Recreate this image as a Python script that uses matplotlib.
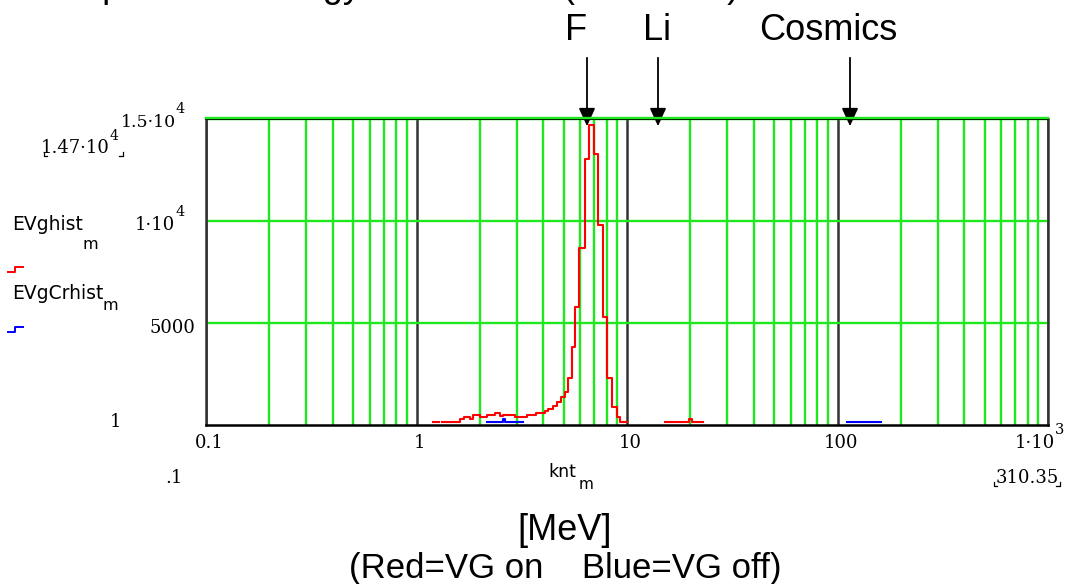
import numpy as np
import matplotlib.pyplot as plt
from matplotlib.lines import Line2D
from matplotlib.patches import FancyArrowPatch

# red = VG on, blue = VG off (energy in MeV, counts per bin)
red_edges = [1.20, 1.28, 1.32, 1.61, 1.68, 1.80, 1.86, 2.00, 2.17, 2.36,
             2.49, 2.59, 2.94, 3.34, 3.70, 4.08, 4.23, 4.47, 4.67, 4.88,
             5.05, 5.22, 5.46, 5.66, 5.94, 6.32, 6.62, 6.97, 7.31, 7.72,
             8.07, 8.46, 8.94, 9.26, 10.0]
red_counts = [160, np.nan, 160, 280, 375, 280, 490, 375, 490, 570,
              440, 490, 410, 470, 580, 700, 800, 950, 1150, 1350,
              1600, 2300, 3800, 5770, 8660, 13020, 14700, 13280, 9800, 5280,
              2290, 900, 375, 165]
red_li_edges = [15.2, 19.6, 20.3, 22.9]
red_li_counts = [160, 280, 160]
blue_edges = [2.17, 2.59, 2.63, 3.22]
blue_counts = [160, 280, 160]
blue_cos_edges = [110.6, 160.3]
blue_cos_counts = [160]

x_major = [0.1, 1, 10, 100, 1000]
x_minor = [m * 10.0**d for d in range(-1, 3) for m in range(2, 10)]
y_lines = [5000, 10000, 15000]

W, H = 1067, 584
fig = plt.figure(figsize=(W / 100, H / 100), dpi=100)
fig.patch.set_facecolor('white')
ax = fig.add_axes([206 / W, 1 - 425 / H, (1048 - 206) / W, (425 - 119) / H])

green = '#1fe81f'
dark = '#333333'

ax.set_xscale('log')
ax.set_xlim(0.1, 1000)
ax.set_ylim(1, 15000)
ax.set_xticks(x_major)
ax.set_xticks(x_minor, minor=True)
ax.set_yticks(y_lines)
ax.tick_params(which='both', length=0, labelbottom=False, labelleft=False)
ax.set_axisbelow(True)
ax.grid(which='minor', axis='x', color=green, lw=1.7)
ax.grid(which='major', axis='x', color=dark, lw=1.8)
ax.grid(which='major', axis='y', color=green, lw=1.7)
for s in ['left', 'right']:
    ax.spines[s].set_color(dark)
    ax.spines[s].set_linewidth(1.8)
ax.spines['bottom'].set_color('black')
ax.spines['bottom'].set_linewidth(1.8)
ax.spines['top'].set_color('black')
ax.spines['top'].set_linewidth(1.5)


def steps(edges, counts, color):
    ax.step(edges, list(counts) + [counts[-1]], where='post', color=color, lw=1.5, zorder=4)


steps(red_edges, red_counts, 'red')
steps(red_li_edges, red_li_counts, 'red')
steps(blue_edges, blue_counts, 'blue')
steps(blue_cos_edges, blue_cos_counts, 'blue')


def P(px, py):
    return px / W, 1 - py / H


def put(px, py, s, size, ha='left', va='baseline', family='DejaVu Serif', **kw):
    x, y = P(px, py)
    fig.text(x, y, s, fontsize=size, ha=ha, va=va, family=family, **kw)


def line(pts, color='black', lw=1.0):
    xs = [P(a, b)[0] for a, b in pts]
    ys = [P(a, b)[1] for a, b in pts]
    fig.add_artist(Line2D(xs, ys, color=color, lw=lw, transform=fig.transFigure))


# green top line over the frame
line([(206, 117.5), (1048, 117.5)], green, 1.7)

# y labels
put(176, 127, '1.5·10', 12.5, ha='right')
put(176, 113, '4', 10.5)
put(110, 153, '1.47·10', 13, ha='right')
put(110, 140, '4', 10)
line([(44, 152), (44, 156), (47, 156)], 'black', 0.9)
line([(119, 156), (123, 156), (123, 152)], 'black', 0.9)
put(175, 230, '1·10', 13, ha='right')
put(175, 216, '4', 10.5)
put(195, 333, '5000', 13, ha='right')
put(115, 427, '1', 13, ha='center')

# x labels
put(209, 448, '0.1', 13, ha='center')
put(420, 448, '1', 13, ha='center')
put(630, 448, '10', 13, ha='center')
put(841, 448, '100', 13, ha='center')
put(1055, 448, '1·10', 13, ha='right')
put(1055, 434, '3', 10.5)
put(174, 483, '.1', 13, ha='center')
put(1027, 483, '310.35', 13, ha='center')
line([(994, 482), (994, 486), (997, 486)], 'black', 0.9)
line([(1056, 486), (1060, 486), (1060, 482)], 'black', 0.9)

# axis variable name
put(548, 477, 'knt', 12.5, family='DejaVu Sans')
put(579, 489, 'm', 11, family='DejaVu Sans')

# legend
put(12, 230, 'EVghist', 13.5, family='DejaVu Sans')
put(83, 249, 'm', 11.5, family='DejaVu Sans')
line([(8, 272), (15, 272), (15, 267), (23, 267)], 'red', 1.4)
put(12, 299, 'EVgCrhist', 13.5, family='DejaVu Sans')
put(103, 310, 'm', 11.5, family='DejaVu Sans')
line([(8, 332), (15, 332), (15, 327), (23, 327)], 'blue', 1.4)

# annotations
big = 'Liberation Sans'
put(28, -3, 'Sample of an energy losses in Si (all events)', 26, family=big)
put(576, 40, 'F', 26, ha='center', family=big)
put(657, 40, 'Li', 26, ha='center', family=big)
put(828, 40, 'Cosmics', 26, ha='center', family=big)
for xa in [587, 658, 850]:
    fig.add_artist(FancyArrowPatch(
        P(xa, 55), P(xa, 129), transform=fig.transFigure,
        arrowstyle='-|>,head_width=5,head_length=11', color='black', lw=1.3))

put(565, 540, '[MeV]', 26, ha='center', family=big)
put(565, 578, '(Red=VG on    Blue=VG off)', 25, ha='center', family=big)

fig.savefig('out.png', dpi=100, facecolor='white')
